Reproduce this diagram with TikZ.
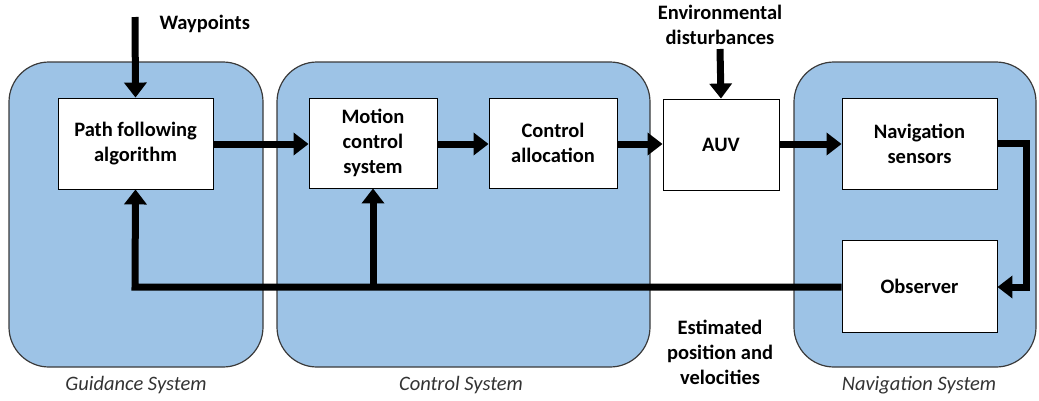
\documentclass[tikz,border=0pt]{standalone}
\usepackage{fontspec}
\setmainfont{Carlito}
\usetikzlibrary{arrows.meta}
\definecolor{groupfill}{HTML}{9DC3E6}
\definecolor{groupline}{HTML}{3A3A3A}
\tikzset{
  group/.style={draw=groupline, line width=1.2pt, fill=groupfill, rounded corners=40pt},
  block/.style={draw=black, line width=0.9pt, fill=white, align=center,
    font=\fontsize{20.5}{25}\selectfont\bfseries, inner sep=0pt},
  flow/.style={line width=7pt, -{Triangle[length=15pt,width=22pt]}},
  tag/.style={font=\fontsize{20.5}{24}\selectfont\itshape, text=black!80},
  note/.style={align=center, font=\fontsize{20.5}{25}\selectfont\bfseries}
}
\begin{document}
\begin{tikzpicture}[x=1pt,y=-1pt]
\useasboundingbox (0,0) rectangle (1039,400);
% subsystem panels
\path[group] (9,62) rectangle (263,367);
\path[group] (277,62) rectangle (650,367);
\path[group] (794,62) rectangle (1036,367);
\node[tag] (gs) at (136,385) {Guidance System};
\node[tag] (cs) at (461,385) {Control System};
\node[tag] (ns) at (919,385) {Navigation System};
% blocks
\node[block, minimum width=155pt, minimum height=91pt] (pf) at (135.5,143.5) {Path following\\algorithm};
\node[block, minimum width=128pt, minimum height=90pt] (mc) at (373,143) {Motion\\control\\system};
\node[block, minimum width=128pt, minimum height=90pt] (ca) at (553,143) {Control\\allocation};
\node[block, minimum width=116pt, minimum height=91pt] (auv) at (721,144.5) {AUV};
\node[block, minimum width=155pt, minimum height=91pt] (sens) at (919.5,143.5) {Navigation\\sensors};
\node[block, minimum width=155pt, minimum height=92pt] (obs) at (919.5,286) {Observer};
% external inputs
\node[note, anchor=west] (wp) at (156,24) {Waypoints};
\node[note] (env) at (720,25) {Environmental\\disturbances};
\node[note] (est) at (720,352) {Estimated\\position and\\velocities};
\coordinate (wpin) at (135,17);
\coordinate (envin) at (720,49);
\draw[flow] (wpin) -- (pf.north);
\draw[flow] (envin) -- (auv.north);
% forward path
\draw[flow] (pf.east |- 0,144) -- (mc.west |- 0,144);
\draw[flow] (mc.east |- 0,144) -- (ca.west |- 0,144);
\draw[flow] (ca.east |- 0,144) -- (auv.west |- 0,144);
\draw[flow] (auv.east |- 0,144) -- (sens.west |- 0,144);
% sensors to observer
\coordinate (r1) at (1026,143);
\coordinate (r2) at (1026,287);
\draw[flow, line join=miter] (sens.east |- r1) -- (r1) -- (r2) -- (obs.east |- r2);
% feedback of estimates
\coordinate (fb) at (135,287);
\coordinate (tap) at (373,287);
\draw[flow, line join=miter] (obs.west |- fb) -- (fb) -- (pf.south);
\draw[flow] (tap) -- (mc.south);
\end{tikzpicture}
\end{document}
